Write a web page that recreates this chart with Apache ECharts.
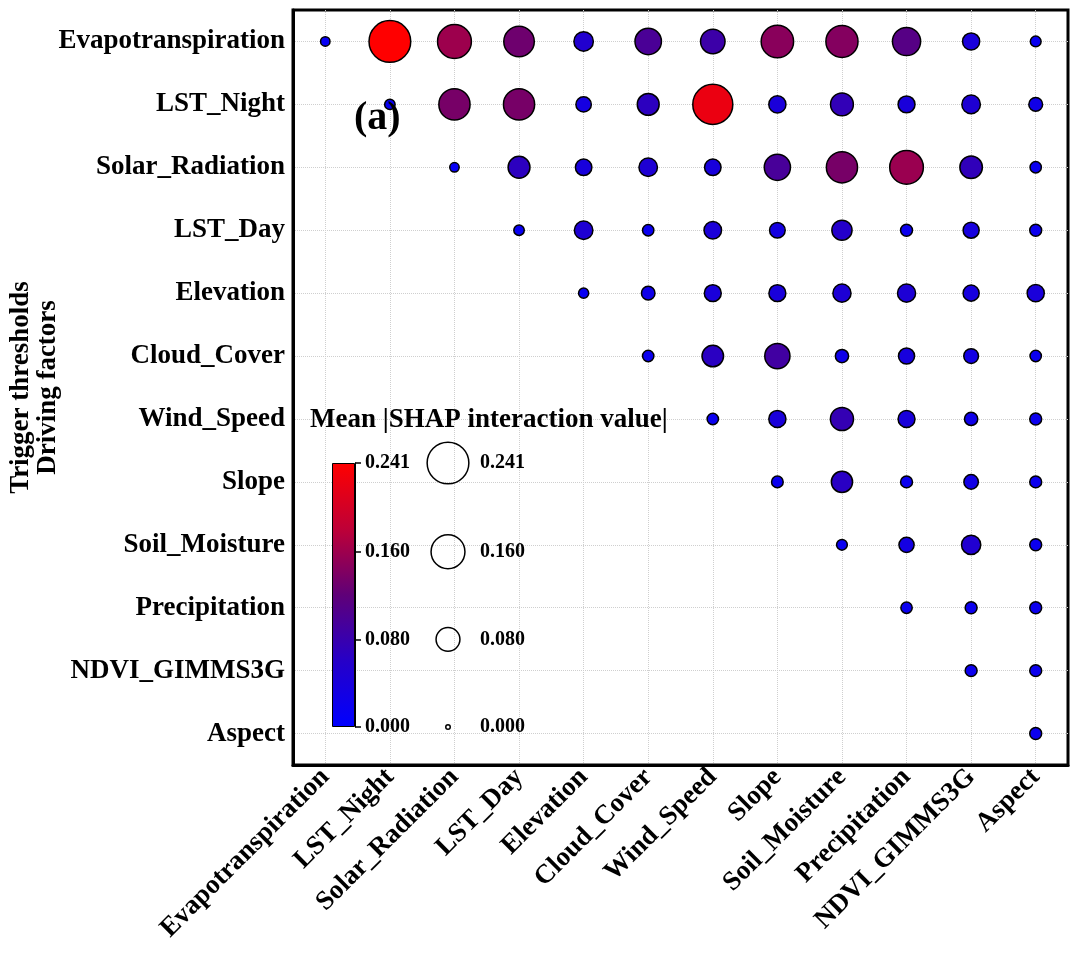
<!DOCTYPE html>
<html>
<head>
<meta charset="utf-8">
<script src="https://cdn.jsdelivr.net/npm/echarts@6/dist/echarts.min.js"></script>
<style>html,body{margin:0;padding:0;background:#fff;}#c{width:1080px;height:960px;}</style>
</head>
<body>
<div id="c"></div>
<script>
// ---- data ----
const factors = ['Evapotranspiration','LST_Night','Solar_Radiation','LST_Day','Elevation','Cloud_Cover','Wind_Speed','Slope','Soil_Moisture','Precipitation','NDVI_GIMMS3G','Aspect'];
// each row starts at the diagonal (column index == row index)
const rowEvapotranspiration = [0.011, 0.241, 0.160, 0.130, 0.053, 0.098, 0.084, 0.147, 0.144, 0.111, 0.041, 0.015];
const rowLSTNight = [0.014, 0.136, 0.136, 0.033, 0.067, 0.222, 0.041, 0.073, 0.040, 0.048, 0.026];
const rowSolarRadiation = [0.011, 0.067, 0.038, 0.048, 0.038, 0.096, 0.136, 0.158, 0.071, 0.017];
const rowLSTDay = [0.014, 0.048, 0.017, 0.043, 0.034, 0.057, 0.019, 0.036, 0.019];
const rowElevation = [0.013, 0.025, 0.040, 0.040, 0.046, 0.046, 0.036, 0.041];
const rowCloudCover = [0.017, 0.065, 0.089, 0.024, 0.036, 0.030, 0.017];
const rowWindSpeed = [0.017, 0.041, 0.075, 0.040, 0.024, 0.019];
const rowSlope = [0.018, 0.063, 0.019, 0.029, 0.019];
const rowSoilMoisture = [0.015, 0.032, 0.052, 0.019];
const rowPrecipitation = [0.017, 0.019, 0.019];
const rowNDVI = [0.019, 0.019];
const rowAspect = [0.019];
const legendTicks = [0.000, 0.080, 0.160, 0.241];
const valueMax = 0.241;

// ---- build ----
const rows = [rowEvapotranspiration,rowLSTNight,rowSolarRadiation,rowLSTDay,rowElevation,rowCloudCover,rowWindSpeed,rowSlope,rowSoilMoisture,rowPrecipitation,rowNDVI,rowAspect];
const points = [];
rows.forEach((r, i) => r.forEach((v, k) => points.push([i + k, i, v])));

const FONT = "'Liberation Serif','Times New Roman',serif";
const stops = ['#0000ff', '#2600c8', '#5f0078', '#be0037', '#ff0000'];
const sizeOf = v => Math.sqrt(36 + 7600 * v) - 1.5;

const chart = echarts.init(document.getElementById('c'));
chart.setOption({
  backgroundColor: '#fff',
  animation: false,
  title: [
    { text: '(a)', left: 354, top: 99, padding: 0,
      textStyle: { fontFamily: FONT, fontWeight: 'bold', fontSize: 40, color: '#000' } },
    { text: 'Mean |SHAP interaction value|', left: 310, top: 407, padding: 0,
      textStyle: { fontFamily: FONT, fontWeight: 'bold', fontSize: 27, color: '#000' } }
  ],
  visualMap: {
    show: false, type: 'continuous', seriesIndex: 0, dimension: 2,
    min: 0, max: valueMax, inRange: { color: stops }
  },
  grid: [
    { left: 293, top: 10, width: 775, height: 755, show: true, borderColor: '#000', borderWidth: 3,
      containLabel: false, outerBoundsMode: 'none' },
    { left: 332, top: 463, width: 23, height: 264, containLabel: false, outerBoundsMode: 'none' },
    { left: 420, top: 463, width: 56, height: 264, containLabel: false, outerBoundsMode: 'none' }
  ],
  xAxis: [
    { type: 'category', gridIndex: 0, data: factors,
      axisLine: { lineStyle: { color: '#000', width: 3 } },
      axisTick: { inside: true, length: 6, alignWithLabel: true, lineStyle: { color: '#000', width: 2 } },
      axisLabel: { rotate: 45, interval: 0, margin: 8, fontFamily: FONT, fontWeight: 'bold', fontSize: 27, color: '#000' },
      splitLine: { show: true, alignWithLabel: true, lineStyle: { type: 'dotted', color: '#cfcfcf', width: 1 } } },
    { type: 'category', gridIndex: 1, data: [''], show: false },
    { type: 'category', gridIndex: 2, data: [''], show: false }
  ],
  yAxis: [
    { type: 'category', gridIndex: 0, data: factors, inverse: true,
      name: 'Trigger thresholds\nDriving factors', nameLocation: 'middle', nameRotate: 90, nameGap: 231,
      nameMoveOverlap: false,
      nameTextStyle: { fontFamily: FONT, fontWeight: 'bold', fontSize: 27, color: '#000', lineHeight: 27 },
      axisLine: { lineStyle: { color: '#000', width: 3 } },
      axisTick: { inside: true, length: 6, alignWithLabel: true, lineStyle: { color: '#000', width: 2 } },
      axisLabel: { interval: 0, margin: 8, fontFamily: FONT, fontWeight: 'bold', fontSize: 27, color: '#000' },
      splitLine: { show: true, alignWithLabel: true, lineStyle: { type: 'dotted', color: '#cfcfcf', width: 1 } } },
    { type: 'value', gridIndex: 1, min: 0, max: valueMax, position: 'right',
      axisLine: { show: true, lineStyle: { color: '#000', width: 1 } },
      axisTick: { show: true, inside: false, length: 6, customValues: legendTicks, lineStyle: { color: '#000', width: 1.5 } },
      axisLabel: { show: true, margin: 10, customValues: legendTicks, formatter: v => v.toFixed(3),
        fontFamily: FONT, fontWeight: 'bold', fontSize: 20, color: '#000' },
      splitLine: { show: false } },
    { type: 'value', gridIndex: 2, min: 0, max: valueMax, show: false }
  ],
  series: [
    { type: 'scatter', xAxisIndex: 0, yAxisIndex: 0, data: points,
      symbolSize: val => sizeOf(val[2]),
      itemStyle: { borderColor: '#000', borderWidth: 1.5, opacity: 1 } },
    { type: 'bar', xAxisIndex: 1, yAxisIndex: 1, data: [valueMax], barWidth: '100%', silent: true,
      itemStyle: { borderColor: '#000', borderWidth: 1,
        color: new echarts.graphic.LinearGradient(0, 1, 0, 0,
          stops.map((c, i) => ({ offset: i / (stops.length - 1), color: c }))) } },
    { type: 'scatter', xAxisIndex: 2, yAxisIndex: 2, data: legendTicks.map(v => [0, v]),
      symbolSize: val => sizeOf(val[1]),
      itemStyle: { color: 'rgba(255,255,255,0)', borderColor: '#000', borderWidth: 1.5, opacity: 1 },
      label: { show: true, position: 'inside', offset: [32, 0], align: 'left',
        formatter: p => p.value[1].toFixed(3), textBorderWidth: 0,
        fontFamily: FONT, fontWeight: 'bold', fontSize: 20, color: '#000' } }
  ]
});
</script>
</body>
</html>
